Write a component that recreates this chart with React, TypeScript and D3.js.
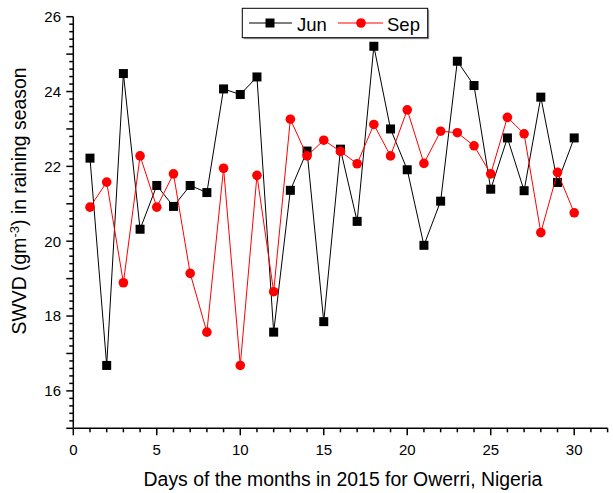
import React from "react";
import * as d3 from "d3";

const days = [1,2,3,4,5,6,7,8,9,10,11,12,13,14,15,16,17,18,19,20,21,22,23,24,25,26,27,28,29,30];
const jun = [22.22,16.68,24.48,20.32,21.49,20.93,21.49,21.30,24.07,23.92,24.39,17.57,21.36,22.41,17.85,22.46,20.53,25.21,23.00,21.91,19.89,21.07,24.81,24.16,21.39,22.76,21.35,23.85,21.57,22.76];
const sep = [20.91,21.58,18.89,22.28,20.91,21.80,19.14,17.57,21.95,16.68,21.76,18.65,23.26,22.28,22.70,22.40,22.07,23.12,22.28,23.51,22.08,22.94,22.90,22.55,21.80,23.31,22.87,20.23,21.84,20.76];
const xMajor = [0,5,10,15,20,25,30];
const yMajor = [16,18,20,22,24,26];

const W = 613, H = 493;
const FONT = "'Liberation Sans', Arial, sans-serif";

export default function App() {
  const x = d3.scaleLinear().domain([0, 32]).range([73.3, 607.6]);
  const y = d3.scaleLinear().domain([15, 26]).range([428.3, 16.7]);
  const xMinor = d3.range(0, 33, 1);
  const yMinor = d3.range(15, 26.001, 0.2);
  const line = d3.line<number>().x((_, i) => x(days[i])).y(d => y(d));
  const sq = 9;
  return (
    <svg width={W} height={H} style={{ position: "absolute", left: 0, top: 0, background: "#fff" }} fontFamily={FONT}>
      {/* x axis */}
      <line x1={x(0)} x2={x(32)} y1={y(15)} y2={y(15)} stroke="#000" strokeWidth={1.5} />
      {xMinor.map(v => (
        <line key={"xm" + v} x1={x(v)} x2={x(v)} y1={y(15)} y2={y(15) + (v % 5 === 0 ? 7 : 4)} stroke="#000" strokeWidth={1.5} />
      ))}
      {xMajor.map(v => (
        <text key={"xl" + v} x={x(v)} y={455} textAnchor="middle" fontSize={15}>{v}</text>
      ))}
      {/* y axis */}
      <line x1={x(0)} x2={x(0)} y1={y(15)} y2={y(26)} stroke="#000" strokeWidth={1.5} />
      {yMinor.map((v, i) => (
        <line key={"ym" + i} x1={x(0) - (i % 5 === 0 ? 7 : 4)} x2={x(0)} y1={y(v)} y2={y(v)} stroke="#000" strokeWidth={1.5} />
      ))}
      {yMajor.map(v => (
        <text key={"yl" + v} x={61} y={y(v) + 5.3} textAnchor="end" fontSize={15}>{v}</text>
      ))}
      {/* titles */}
      <text x={343} y={486} textAnchor="middle" fontSize={19.4}>Days of the months in 2015 for Owerri, Nigeria</text>
      <text transform={`translate(26,201) rotate(-90)`} textAnchor="middle" fontSize={19.4}>
        SWVD (gm<tspan baselineShift="super" fontSize={13}>-3</tspan>) in raining season
      </text>
      {/* Jun */}
      <path d={line(jun) || ""} fill="none" stroke="#000" strokeWidth={1} />
      {jun.map((v, i) => (
        <rect key={"j" + i} x={x(days[i]) - sq / 2} y={y(v) - sq / 2} width={sq} height={sq} fill="#000" />
      ))}
      {/* Sep */}
      <path d={line(sep) || ""} fill="none" stroke="#f00" strokeWidth={1} />
      {sep.map((v, i) => (
        <circle key={"s" + i} cx={x(days[i])} cy={y(v)} r={4.8} fill="#f00" />
      ))}
      {/* legend */}
      <rect x={243.8} y={9.8} width={185.4} height={29.4} fill="#999" />
      <rect x={242.3} y={8.3} width={185.4} height={29.4} fill="#fff" stroke="#000" strokeWidth={1} />
      <line x1={249} x2={292} y1={23} y2={23} stroke="#000" strokeWidth={1} />
      <rect x={270 - sq / 2} y={23 - sq / 2} width={sq} height={sq} fill="#000" />
      <text x={297} y={30.5} fontSize={18.5}>Jun</text>
      <line x1={338} x2={383} y1={23} y2={23} stroke="#f00" strokeWidth={1} />
      <circle cx={361} cy={23} r={4.8} fill="#f00" />
      <text x={387} y={30.5} fontSize={18.5}>Sep</text>
    </svg>
  );
}
